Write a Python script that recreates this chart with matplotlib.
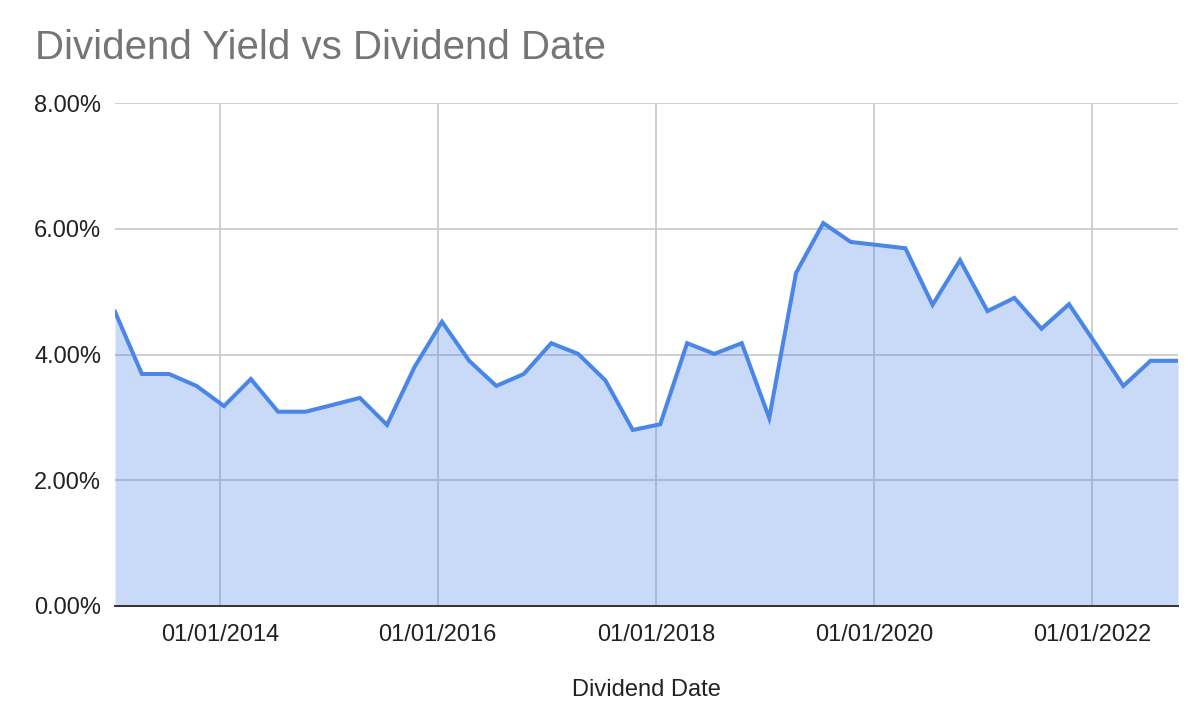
import matplotlib
matplotlib.use("Agg")
import matplotlib.pyplot as plt
import matplotlib.dates as mdates
from matplotlib.ticker import FuncFormatter, FixedLocator
import pandas as pd

plt.rcParams['font.family'] = ['Liberation Sans', 'DejaVu Sans']

dates = [
    "2013-01-15", "2013-04-15", "2013-07-15", "2013-10-15",
    "2014-01-15", "2014-04-15", "2014-07-15", "2014-10-15",
    "2015-01-15", "2015-04-15", "2015-07-15", "2015-10-15",
    "2016-01-15", "2016-04-15", "2016-07-15", "2016-10-15",
    "2017-01-15", "2017-04-15", "2017-07-15", "2017-10-15",
    "2018-01-15", "2018-04-15", "2018-07-15", "2018-10-15",
    "2019-01-15", "2019-04-15", "2019-07-15", "2019-10-15",
    "2020-01-15", "2020-04-15", "2020-07-15", "2020-10-15",
    "2021-01-15", "2021-04-15", "2021-07-15", "2021-10-15",
    "2022-01-15", "2022-04-15", "2022-07-15", "2022-10-15",
]
yields = [
    4.68, 3.69, 3.69, 3.50, 3.18, 3.61, 3.09, 3.09,
    3.20, 3.31, 2.88, 3.80, 4.52, 3.90, 3.50, 3.69,
    4.18, 4.01, 3.59, 2.80, 2.89, 4.18, 4.01, 4.18,
    2.99, 5.30, 6.09, 5.79, 5.74, 5.69, 4.79, 5.50,
    4.69, 4.90, 4.41, 4.80, 4.15, 3.50, 3.90, 3.90,
]
y_ticks = [0, 2, 4, 6, 8]
x_ticks = ["2014-01-01", "2016-01-01", "2018-01-01", "2020-01-01", "2022-01-01"]

title = "Dividend Yield vs Dividend Date"
x_label = "Dividend Date"

x = pd.to_datetime(dates)
fig = plt.figure(figsize=(12, 7.17), dpi=100)
ax = fig.add_axes([115/1200, 1-606/717, (1178-115)/1200, (606-103)/717])

line_color = "#4a86e8"
ax.fill_between(x, 0, yields, color=line_color, alpha=0.3, linewidth=0, zorder=2)
ax.plot(x, yields, color=line_color, linewidth=2.9, zorder=3, solid_joinstyle='miter')

ax.set_xlim(x[0], x[-1])
ax.set_ylim(0, 8)
ax.yaxis.set_major_locator(FixedLocator(y_ticks))
ax.yaxis.set_major_formatter(FuncFormatter(lambda v, p: f"{v:.2f}%"))
ax.xaxis.set_major_locator(FixedLocator(mdates.date2num(pd.to_datetime(x_ticks))))
ax.xaxis.set_major_formatter(mdates.DateFormatter("%m/%d/%Y"))

ax.grid(True, color="#cccccc", linewidth=1.3, zorder=1)
ax.set_axisbelow(True)
for s in ["top", "right", "left"]:
    ax.spines[s].set_visible(False)
ax.spines["bottom"].set_color("#333333")
ax.spines["bottom"].set_linewidth(1.4)
ax.spines["bottom"].set_zorder(4)

ax.tick_params(axis="both", length=0, labelsize=17, colors="#222222")
ax.tick_params(axis="y", pad=10)
ax.tick_params(axis="x", pad=13)

ax.set_xlabel(x_label, fontsize=17, color="#222222", labelpad=24)
fig.text(35/1200, 1-59/717, title, fontsize=29, color="#757575", ha="left", va="baseline")

fig.savefig("out.png", dpi=100, facecolor="white")
